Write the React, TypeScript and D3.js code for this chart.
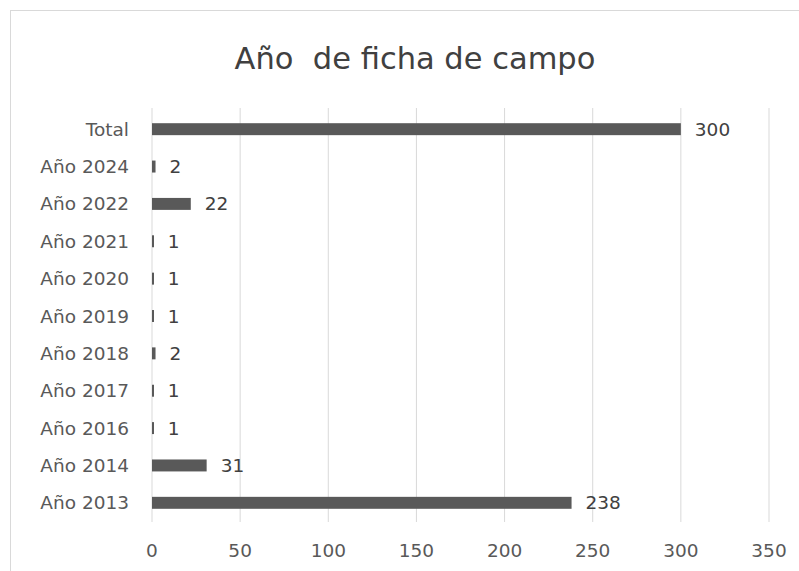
import React from "react";
import * as d3 from "d3";

const categories = ["Total", "Año 2024", "Año 2022", "Año 2021", "Año 2020", "Año 2019", "Año 2018", "Año 2017", "Año 2016", "Año 2014", "Año 2013"];
const values = [300, 2, 22, 1, 1, 1, 2, 1, 1, 31, 238];
const xTicks = [0, 50, 100, 150, 200, 250, 300, 350];
const title = "Año  de ficha de campo";

const W = 799;
const H = 571;
const font = "'DejaVu Sans', 'Open Sans', sans-serif";

export default function App() {
  const x = d3.scaleLinear().domain([0, 350]).range([152, 769]);
  const y = d3.scaleBand<string>().domain(categories).range([110.5, 521.5]).paddingInner(0.68).paddingOuter(0.34);
  const bh = y.bandwidth();
  return (
    <svg width={W} height={H} style={{ position: "absolute", left: 0, top: 0, background: "#fff" }}>
      <rect x={10.5} y={10.5} width={W + 10} height={H - 6} fill="#fff" stroke="#d9d9d9" />
      <text x={415} y={69} textAnchor="middle" fontFamily={font} fontSize={30.5} fill="#404040" style={{ whiteSpace: "pre" }}>{title}</text>
      {xTicks.map((t) => (
        <line key={"g" + t} x1={x(t)} x2={x(t)} y1={108} y2={522} stroke="#d9d9d9" strokeWidth={1} />
      ))}
      {xTicks.map((t) => (
        <text key={"t" + t} x={x(t)} y={557} textAnchor="middle" fontFamily={font} fontSize={18.5} fill="#595959">{t}</text>
      ))}
      {categories.map((c, i) => (
        <g key={c}>
          <text x={129} y={(y(c) as number) + bh / 2 + 6.5} textAnchor="end" fontFamily={font} fontSize={18.5} fill="#595959">{c}</text>
          <rect x={x(0)} y={y(c)} width={Math.max(x(values[i]) - x(0), 2)} height={bh} fill="#595959" />
          <text x={x(values[i]) + 14} y={(y(c) as number) + bh / 2 + 6.5} fontFamily={font} fontSize={18.5} fill="#404040">{values[i]}</text>
        </g>
      ))}
    </svg>
  );
}
